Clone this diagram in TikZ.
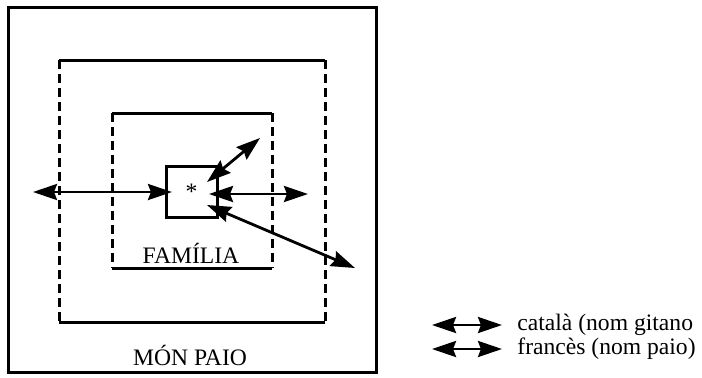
\documentclass[tikz,border=0pt]{standalone}
\usepackage{fontspec}
\setmainfont{Liberation Serif}
\usetikzlibrary{arrows.meta}
\usetikzlibrary{positioning}
\begin{document}
\begin{tikzpicture}[x=0.5pt,y=-0.5pt]
\tikzset{frame/.style={line width=1.5pt},
  dashside/.style={line width=1.5pt,dash pattern=on 4.5pt off 2.5pt},
  bothway/.style={line width=1.4pt,{Stealth[length=12pt,width=8pt,inset=1.5pt]}-{Stealth[length=12pt,width=8pt,inset=1.5pt]}},
  lbl/.style={font=\fontsize{11.8}{14}\selectfont,inner sep=0pt}}
\useasboundingbox (0,0) rectangle (702,377);
% outer world
\draw[frame] (8,7) rectangle (376,372);
\node[lbl,anchor=base] (monpaio) at (190,365) {MÓN PAIO};
% middle ring
\draw[frame] (59,60) -- (325,60) (59,322) -- (325,322);
\draw[dashside] (59,60) -- (59,322) (325,60) -- (325,322);
% family
\draw[frame] (112,113) -- (272,113) (112,268) -- (272,268);
\draw[dashside] (112,113) -- (112,268) (272,113) -- (272,268);
\node[lbl,anchor=base] (familia) at (191,263) {FAMÍLIA};
% ego
\node[frame,draw,minimum size=25.5pt,inner sep=0pt,font=\fontsize{11.8}{14}\selectfont] (ego) at (191.5,191.5) {*};
\coordinate (farw) at (33,192);
\coordinate (inw) at (172,192);
\coordinate (ine) at (209,194);
\coordinate (fare) at (308,194);
\coordinate (inne) at (207,182);
\coordinate (farne) at (260,138);
\coordinate (inse) at (207,205);
\coordinate (farse) at (355,268);
\draw[bothway] (farw) -- (inw);
\draw[bothway] (ine) -- (fare);
\draw[bothway] (inne) -- (farne);
\draw[bothway] (inse) -- (farse);
% key
\coordinate (k1a) at (432,325);
\coordinate (k1b) at (502,325);
\coordinate (k2a) at (432,349);
\coordinate (k2b) at (502,349);
\draw[bothway] (k1a) -- (k1b);
\draw[bothway] (k2a) -- (k2b);
\node[lbl] (catala) [right=7.5pt of k1b] {català (nom gitano};
\node[lbl] (frances) [right=7.5pt of k2b] {francès (nom paio)};
\end{tikzpicture}
\end{document}
